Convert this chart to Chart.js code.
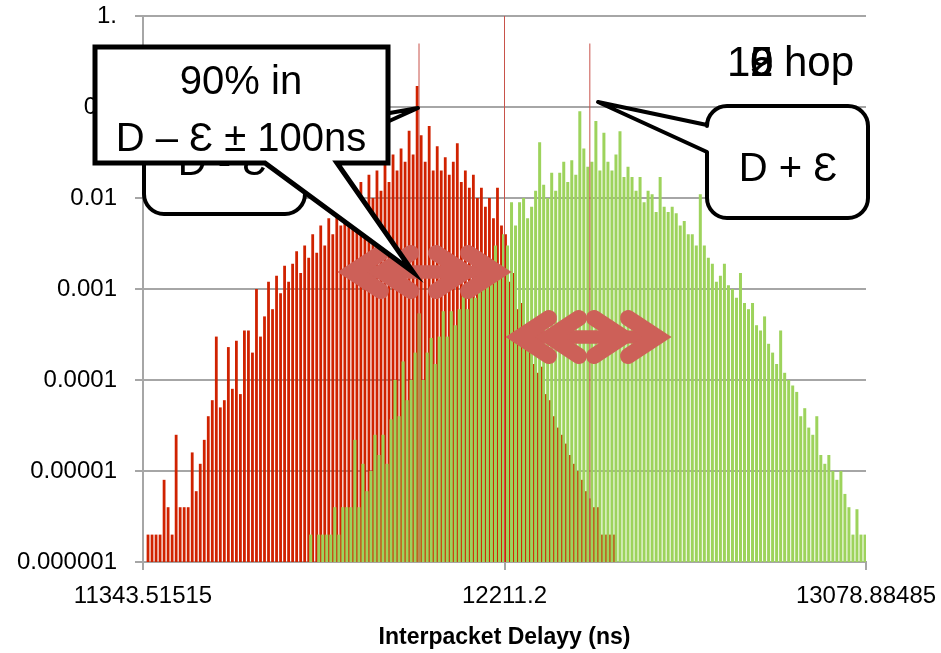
<!DOCTYPE html>
<html lang="en">
<head>
  <meta charset="UTF-8">
  <title>Interpacket Delay</title>
  <script src="https://cdn.jsdelivr.net/npm/chart.js@4.4.0/dist/chart.umd.min.js"></script>
  <style>
    html, body { margin: 0; background: #fff; }
    #wrap { width: 941px; height: 653px; position: relative; }
  </style>
</head>
<body>
  <div id="wrap"><canvas id="chart"></canvas></div>

  <script>
    // Axis range and tick labels
    const xMin = 11343.51515;
    const xMax = 13078.88485;
    const xTickValues = [11343.51515, 12211.2, 13078.88485];
    const xTickLabels = ["11343.51515", "12211.2", "13078.88485"];
    const yTickValues = [1, 0.1, 0.01, 0.001, 0.0001, 0.00001, 0.000001];
    const yTickLabels = ["1.", "0.1", "0.01", "0.001", "0.0001", "0.00001", "0.000001"];

    // Histogram bins across the x range
    const binCount = 180;

    // D - Ɛ series (red), starting at bin 1
    const redFirstBin = 1;
    const redValues = [
      2e-6, 2e-6, 2e-6, 2e-6, 8e-6,
      4e-6, 2e-6, 2.5e-5, 4e-6, 4e-6,
      4e-6, 1.6e-5, 6e-6, 1.2e-5, 2.2e-5,
      4e-5, 6e-5, 3e-4, 5e-5, 6e-5,
      2.3e-4, 8e-5, 2.7e-4, 7e-5, 3.5e-4,
      3.5e-4, 2e-4, 1e-3, 3e-4, 5e-4,
      1.2e-3, 6e-4, 1.4e-3, 9e-4, 1.8e-3,
      1.2e-3, 1.9e-3, 2.6e-3, 1.5e-3, 3e-3,
      2.2e-3, 4e-3, 2.5e-3, 5e-3, 3e-3,
      6e-3, 4e-3, 8e-3, 5e-3, 1e-2,
      6e-3, 1.2e-2, 8e-3, 1.5e-2, 7e-3,
      1.8e-2, 1e-2, 2e-2, 1.2e-2, 2.5e-2,
      1.5e-2, 3e-2, 2e-2, 3.5e-2, 2.5e-2,
      5.5e-2, 3e-2, 0.17, 4.9e-2, 2.5e-2,
      6.2e-2, 2e-2, 3.7e-2, 2e-2, 2.8e-2,
      1.8e-2, 2.5e-2, 4e-2, 1.5e-2, 2e-2,
      1.3e-2, 1.8e-2, 1e-2, 1.3e-2, 8e-3,
      1e-2, 6e-3, 1.3e-2, 5e-3, 4e-3,
      1.2e-3, 1.5e-3, 6e-4, 7e-4, 3e-4,
      3.5e-4, 1.5e-4, 1.2e-4, 1.4e-4, 7e-5,
      6e-5, 4e-5, 3e-5, 2.5e-5, 2e-5,
      1.5e-5, 1.2e-5, 1e-5, 8e-6, 6e-6,
      5e-6, 4e-6, 4e-6, 2e-6, 2e-6,
      2e-6, 2e-6
    ];

    // D + Ɛ series (green), starting at bin 41
    const greenFirstBin = 41;
    const greenValues = [
      2e-6, null, 2e-6, 2e-6, 2e-6,
      2e-6, 4e-6, 2e-6, 4e-6, 4e-6,
      4e-6, 2.2e-5, 4e-6, 1.2e-5, 6e-6,
      1e-5, 2.5e-5, 1.5e-5, 2.5e-5, 1.2e-5,
      3.7e-5, 1e-4, 4e-5, 1.6e-4, 6e-5,
      1e-4, 2e-4, 5.4e-4, 1e-4, 2e-4,
      2.9e-4, 1.5e-4, 3e-4, 5.7e-4, 3e-4,
      5.7e-4, 4e-4, 6e-4, 1e-3, 6e-4,
      1.1e-3, 8e-4, 1.5e-3, 1e-3, 2e-3,
      2e-3, 3e-3, 1.8e-3, 4e-3, 3e-3,
      9e-3, 5e-3, 9e-3, 1e-2, 6e-3,
      8e-3, 1.2e-2, 4.1e-2, 1.4e-2, 1e-2,
      1.9e-2, 1.2e-2, 1.9e-2, 2.5e-2, 1.5e-2,
      2.6e-2, 1.8e-2, 9e-2, 3.5e-2, 2.2e-2,
      2.5e-2, 7e-2, 2e-2, 5.2e-2, 2.5e-2,
      2e-2, 3e-2, 5.4e-2, 1.7e-2, 2.2e-2,
      1.7e-2, 1.2e-2, 1.7e-2, 9e-3, 1.2e-2,
      1.1e-2, 7e-3, 1.7e-2, 8e-3, 7e-3,
      8e-3, 6.8e-3, 5e-3, 5.6e-3, 4e-3,
      4e-3, 3e-3, 1.1e-2, 3e-3, 2.2e-3,
      1.9e-3, 1.2e-3, 1.4e-3, 1.9e-3, 1.1e-3,
      1e-3, 8e-4, 1.5e-3, 7e-4, 6e-4,
      7e-4, 4e-4, 3.5e-4, 5e-4, 2.5e-4,
      2e-4, 1.5e-4, 3.5e-4, 1.2e-4, 1e-4,
      8.7e-5, 7.4e-5, 4e-5, 4.9e-5, 3e-5,
      2.5e-5, 4e-5, 1.5e-5, 1.2e-5, 1.5e-5,
      1e-5, 8e-6, 1e-5, 5.6e-6, 4e-6,
      2e-6, 3.8e-6, 2e-6, 2e-6
    ];

    // Thin marker lines at D - Ɛ, D and D + Ɛ
    const markerX = [12006, 12211.2, 12416];
    const markerValues = [0.5, 1, 0.5];

    const hopDigits = ["0", "2", "5", "6", "9"];
    const calloutTexts = {
      minus: "D - Ɛ",
      plus: "D + Ɛ",
      share: ["90% in", "D – Ɛ ± 100ns"]
    };

    const binWidth = (xMax - xMin) / binCount;
    const shift = binWidth / 4;
    const toPoints = (values, firstBin, offset) =>
      values.map((v, i) => ({ x: xMin + binWidth * (firstBin + i + 0.5) + offset, y: v }));

    // Callout box with a pointer, drawn clockwise
    function calloutPath(c, x, y, w, h, r, side, a, b, tx, ty) {
      const tail = (s, p1x, p1y, p2x, p2y) => {
        if (side === s) { c.lineTo(p1x, p1y); c.lineTo(tx, ty); c.lineTo(p2x, p2y); }
      };
      c.beginPath();
      c.moveTo(x + r, y);
      tail("top", a, y, b, y);
      c.lineTo(x + w - r, y);
      c.arcTo(x + w, y, x + w, y + r, r);
      tail("right", x + w, a, x + w, b);
      c.lineTo(x + w, y + h - r);
      c.arcTo(x + w, y + h, x + w - r, y + h, r);
      tail("bottom", a, y + h, b, y + h);
      c.lineTo(x + r, y + h);
      c.arcTo(x, y + h, x, y + h - r, r);
      tail("left", x, a, x, b);
      c.lineTo(x, y + r);
      c.arcTo(x, y, x + r, y, r);
      c.closePath();
    }

    function arrowHead(c, tipX, y, dir) {
      c.beginPath();
      c.moveTo(tipX + dir * 44, y - 19);
      c.lineTo(tipX + dir * 15, y);
      c.lineTo(tipX + dir * 44, y + 19);
      c.stroke();
    }

    function doubleArrow(c, x1, x2, y) {
      c.strokeStyle = "#CD6058";
      c.lineWidth = 13;
      c.lineCap = "butt";
      c.beginPath();
      c.moveTo(x1 + 15, y);
      c.lineTo(x2 - 15, y);
      c.stroke();
      c.lineWidth = 16;
      c.lineCap = "round";
      c.lineJoin = "miter";
      c.miterLimit = 10;
      arrowHead(c, x1, y, 1);
      arrowHead(c, x2, y, -1);
    }

    const annotations = {
      id: "annotations",
      afterDraw(chart) {
        const c = chart.ctx;
        c.save();

        // double arrows
        doubleArrow(c, 337, 480, 272);
        doubleArrow(c, 367, 512, 272);
        doubleArrow(c, 505, 638, 337);
        doubleArrow(c, 535, 672, 337);

        c.font = "40px 'Liberation Sans', Arial, sans-serif";
        c.textBaseline = "alphabetic";
        c.lineCap = "butt";

        // D - Ɛ box
        calloutPath(c, 144, 104, 161, 110, 20, "right", 128, 159, 418, 108);
        c.fillStyle = "#fff"; c.fill();
        c.lineWidth = 4; c.lineJoin = "round"; c.strokeStyle = "#000"; c.stroke();
        c.fillStyle = "#000"; c.textAlign = "center";
        c.fillText(calloutTexts.minus, 222, 175);

        // 90% box
        calloutPath(c, 95, 47, 293, 116, 0, "bottom", 337, 265, 413, 272);
        c.fillStyle = "#fff"; c.fill();
        c.lineWidth = 5; c.lineJoin = "miter"; c.stroke();
        c.fillStyle = "#000";
        c.fillText(calloutTexts.share[0], 241, 94);
        c.fillText(calloutTexts.share[1], 241, 151);

        // D + Ɛ box
        calloutPath(c, 707, 106, 161, 112, 20, "left", 152, 125, 598, 102);
        c.fillStyle = "#fff"; c.fill();
        c.lineWidth = 4; c.lineJoin = "round"; c.stroke();
        c.fillStyle = "#000";
        c.fillText(calloutTexts.plus, 788, 181);

        // hop count label (overlapping digits)
        c.font = "42px 'Liberation Sans', Arial, sans-serif";
        c.textAlign = "left";
        c.fillText("1", 727, 76);
        hopDigits.forEach(d => c.fillText(d, 750, 76));
        c.fillText("hop", 784, 76);

        c.restore();
      }
    };

    Chart.defaults.font.family = "'Liberation Sans', Arial, sans-serif";
    Chart.defaults.color = "#000";

    const ctx = document.getElementById("chart").getContext("2d");
    new Chart(ctx, {
      type: "bar",
      data: {
        datasets: [
          {
            label: "markers",
            data: markerX.map((x, i) => ({ x: x, y: markerValues[i] })),
            backgroundColor: "#C8524A",
            barThickness: 1,
            inflateAmount: 0,
            grouped: false,
            order: 0
          },
          {
            label: "D + Ɛ",
            data: toPoints(greenValues, greenFirstBin, shift),
            backgroundColor: "#9DD35C",
            barThickness: 3,
            inflateAmount: 0,
            grouped: false,
            order: 1
          },
          {
            label: "D - Ɛ",
            data: toPoints(redValues, redFirstBin, -shift),
            backgroundColor: "#D02200",
            barThickness: 2.8,
            inflateAmount: 0,
            grouped: false,
            order: 2
          }
        ]
      },
      options: {
        responsive: true,
        maintainAspectRatio: false,
        animation: false,
        layout: { padding: { top: 16, right: 75, left: 0, bottom: 0 } },
        plugins: { legend: { display: false }, tooltip: { enabled: false } },
        scales: {
          x: {
            type: "linear",
            min: xMin,
            max: xMax,
            offset: false,
            afterBuildTicks: s => { s.ticks = xTickValues.map(v => ({ value: v })); },
            afterFit: s => { s.height = 91; s.paddingLeft = 0; s.paddingRight = 0; },
            border: { display: true, color: "#A6A6A6", width: 2 },
            grid: { offset: false, drawOnChartArea: false, color: "#A6A6A6", lineWidth: 2, tickLength: 8 },
            ticks: {
              padding: 12,
              maxRotation: 0,
              autoSkip: false,
              font: { size: 24 },
              color: "#000",
              callback: v => xTickLabels[xTickValues.indexOf(v)]
            },
            title: {
              display: true,
              text: "Interpacket Delayy (ns)",
              color: "#000",
              font: { size: 23, weight: "bold" },
              padding: { top: 0, bottom: 2 }
            }
          },
          y: {
            type: "logarithmic",
            min: 1e-6,
            max: 1,
            afterBuildTicks: s => { s.ticks = yTickValues.map(v => ({ value: v })); },
            afterFit: s => { s.width = 143; s.paddingTop = 0; s.paddingBottom = 0; },
            border: { display: true, color: "#A6A6A6", width: 2 },
            grid: { color: "#A6A6A6", lineWidth: 2, tickLength: 8 },
            ticks: {
              padding: 18,
              autoSkip: false,
              font: { size: 24 },
              color: "#000",
              callback: v => yTickLabels[yTickValues.indexOf(v)]
            }
          }
        }
      },
      plugins: [annotations]
    });
  </script>
</body>
</html>
